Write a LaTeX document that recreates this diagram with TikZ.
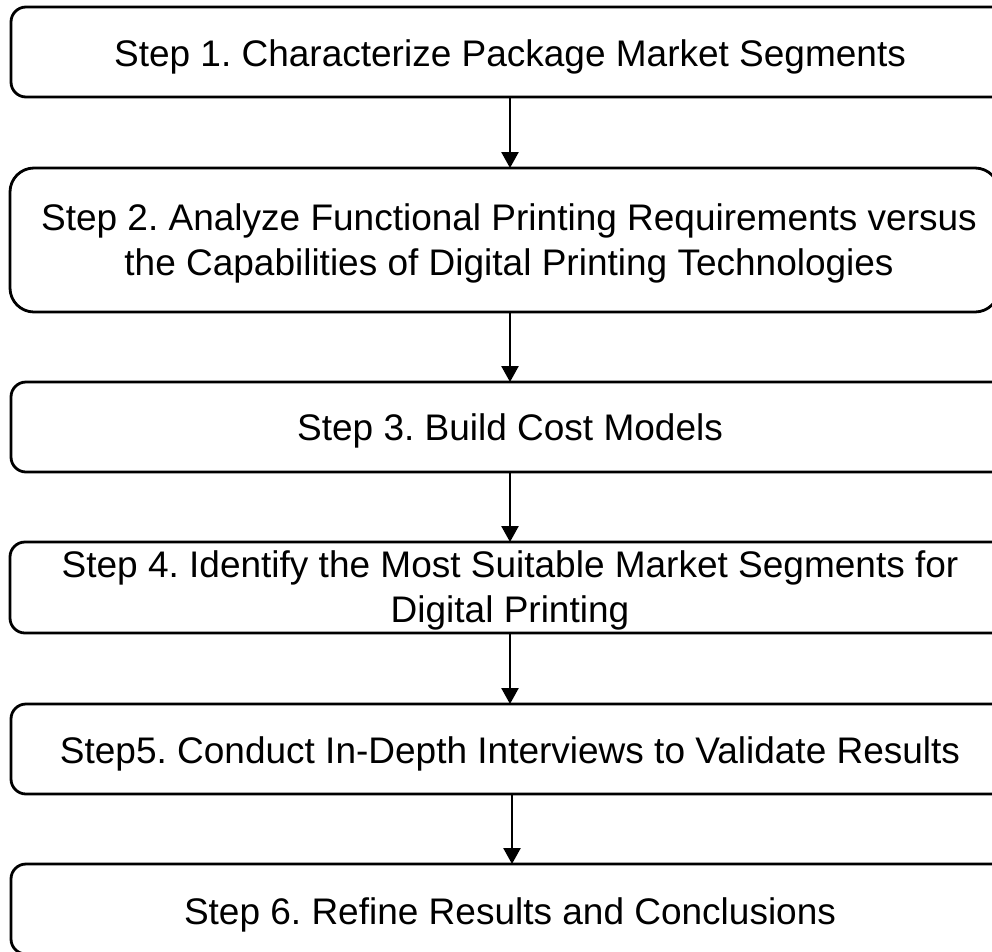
\documentclass[tikz,border=0pt]{standalone}
\usepackage{fontspec}
\setmainfont{Liberation Sans}
\frenchspacing
\usetikzlibrary{arrows.meta}
\tikzset{
  stepbox/.style={draw=black, line width=2.8pt, rounded corners=15pt, anchor=north west, inner sep=0pt, outer sep=0pt},
  tallbox/.style={stepbox, rounded corners=24pt},
  txt/.style={anchor=base, inner sep=0pt, font=\fontsize{37}{45}\selectfont},
  arr/.style={draw=black, line width=2.5pt, -{Triangle[width=17pt,length=16pt]}}
}
\begin{document}
\begin{tikzpicture}[x=1pt,y=-1pt]
\useasboundingbox (0,0) rectangle (992,951);
\clip (0,0) rectangle (992,951);
\node[stepbox, minimum width=998pt, minimum height=90pt] (b1) at (11,7) {};
\node[tallbox, minimum width=989pt, minimum height=144pt] (b2) at (10,168) {};
\node[stepbox, minimum width=998pt, minimum height=90pt] (b3) at (11,382) {};
\node[stepbox, minimum width=999pt, minimum height=91pt] (b4) at (10,542) {};
\node[stepbox, minimum width=998pt, minimum height=90pt] (b5) at (11,704) {};
\node[stepbox, minimum width=998pt, minimum height=90pt] (b6) at (11,864) {};
\node[txt] (t1) at (510,66) {Step 1. Characterize Package Market Segments};
\node[txt] (t2a) at (509,230) {Step 2. Analyze Functional Printing Requirements versus};
\node[txt] (t2b) at (509,275) {the Capabilities of Digital Printing Technologies};
\node[txt] (t3) at (510,440) {Step 3. Build Cost Models};
\node[txt] (t4a) at (510,577) {Step 4. Identify the Most Suitable Market Segments for};
\node[txt] (t4b) at (510,622) {Digital Printing};
\node[txt] (t5) at (510,763) {Step5. Conduct In-Depth Interviews to Validate Results};
\node[txt] (t6) at (510,924) {Step 6. Refine Results and Conclusions};
\draw[arr] (b1.south) -- (b1.south |- b2.north);
\draw[arr] (b1.south |- b2.south) -- (b3.north);
\draw[arr] (b3.south) -- (b4.north -| b3.south);
\draw[arr] (b3.south |- b4.south) -- (b5.north);
\draw[arr] ([xshift=2pt]b5.south) -- ([xshift=2pt]b6.north);
\end{tikzpicture}
\end{document}
